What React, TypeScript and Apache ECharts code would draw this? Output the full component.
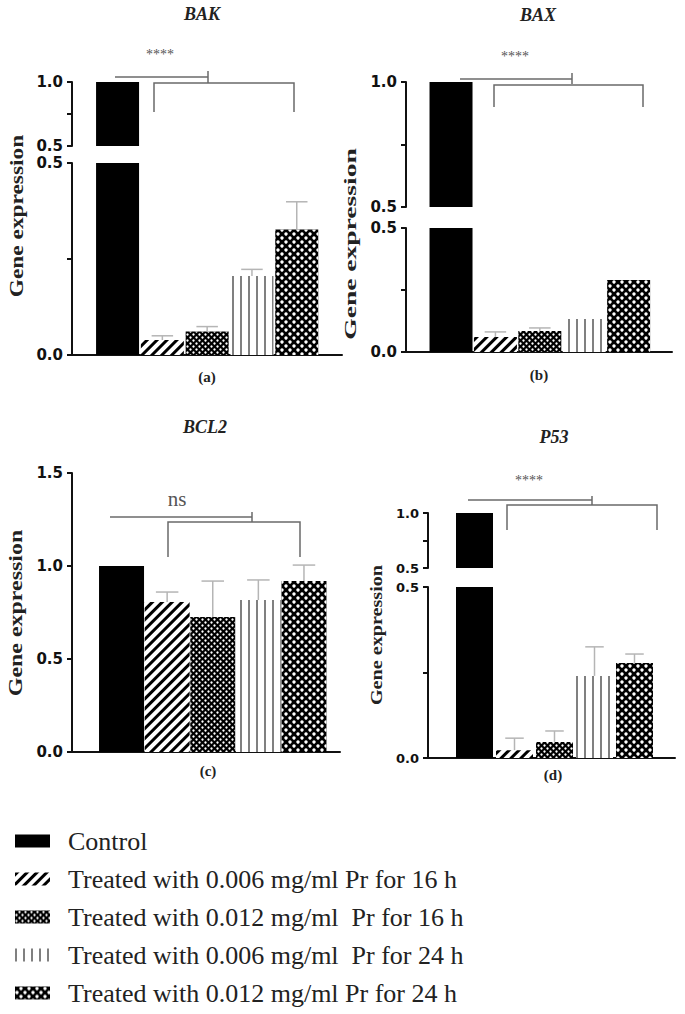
import React, { useEffect, useRef } from "react";
import * as echarts from "echarts";

// ---------- data ----------
const groups = [
  "Control",
  "Treated with 0.006 mg/ml Pr for 16 h",
  "Treated with 0.012 mg/ml  Pr for 16 h",
  "Treated with 0.006 mg/ml  Pr for 24 h",
  "Treated with 0.012 mg/ml Pr for 24 h",
];
const geneTitles = ["BAK", "BAX", "BCL2", "P53"];
const panelTags = ["(a)", "(b)", "(c)", "(d)"];
const sigLabels = ["****", "****", "ns", "****"];
const yAxisTitle = "Gene expression";

const bakMean = [1.0, 0.039, 0.061, 0.206, 0.327];
const bakSD = [0, 0.011, 0.013, 0.017, 0.072];
const baxMean = [1.0, 0.06, 0.085, 0.133, 0.29];
const baxSD = [0, 0.021, 0.012, 0, 0];
const bcl2Mean = [1.0, 0.806, 0.726, 0.817, 0.919];
const bcl2SD = [0, 0.054, 0.193, 0.108, 0.086];
const p53Mean = [1.0, 0.023, 0.047, 0.24, 0.278];
const p53SD = [0, 0.035, 0.032, 0.085, 0.026];

const panelMeans = [bakMean, baxMean, bcl2Mean, p53Mean];
const panelSDs = [bakSD, baxSD, bcl2SD, p53SD];

// ---------- layout ----------
const layouts = [
  { left: 72, right: 342, xMin: -1.017, xMax: 5.01, barWidth: 43, tickFont: 15,
    segs: [ { min: 0.5, max: 1, interval: 0.25, top: 82, bottom: 146 },
            { min: 0, max: 0.5, interval: 0.25, top: 163, bottom: 355 } ] },
  { left: 406, right: 672, xMin: -1.014, xMax: 4.977, barWidth: 43, tickFont: 15,
    segs: [ { min: 0.5, max: 1, interval: 0.25, top: 82, bottom: 207 },
            { min: 0, max: 0.5, interval: 0.25, top: 228, bottom: 352 } ] },
  { left: 72, right: 340, xMin: -1.086, xMax: 4.79, barWidth: 45, tickFont: 15,
    segs: [ { min: 0, max: 1.5, interval: 0.5, top: 473, bottom: 752 } ] },
  { left: 428, right: 675, xMin: -1.1625, xMax: 5.0125, barWidth: 37, tickFont: 13,
    segs: [ { min: 0.5, max: 1, interval: 0.25, top: 513, bottom: 568 },
            { min: 0, max: 0.5, interval: 0.25, top: 587, bottom: 758 } ] },
];

const annot = [
  { title: [202, 14], tag: [207, 377], sig: [160, 54], sigSize: 14,
    ylab: { x: 17, y: 216, size: 19, weight: "bold", sx: 1.23 },
    line1: [115, 208, 77], tick: [71, 83], br: [154, 294, 83, 112] },
  { title: [538, 15], tag: [539, 375], sig: [515, 56], sigSize: 14,
    ylab: { x: 350, y: 244, size: 17, weight: "bold", sx: 1.62 },
    line1: [460, 572, 79], tick: [73, 84], br: [494, 643, 85, 107] },
  { title: [205, 427], tag: [208, 771], sig: [177, 499], sigSize: 21,
    ylab: { x: 16, y: 613, size: 19, weight: "bold", sx: 1.26 },
    line1: [110, 252, 517], tick: [512, 522], br: [168, 300, 522, 557] },
  { title: [554, 437], tag: [553, 775], sig: [529, 480], sigSize: 14,
    ylab: { x: 377, y: 635, size: 16, weight: "bold", sx: 1.26 },
    line1: [468, 592, 500], tick: [496, 505], br: [507, 657, 505, 530] },
];

const fills: any[] = [
  { color: "#000" },
  { color: "#fff", decal: { symbol: "rect", color: "#000", dashArrayX: [1, 0], dashArrayY: [2.5, 3.5], rotation: -Math.PI / 4 } },
  { color: "#000", decal: { symbol: "circle", symbolSize: 0.8, color: "#fff", dashArrayX: [[2.5, 2.5], [0, 2.5, 2.5, 0]], dashArrayY: [2.5, 0] } },
  { color: "#fff", decal: { symbol: "rect", color: "#808080", dashArrayX: [1.5, 5.5], dashArrayY: [1, 0] } },
  { color: "#000", decal: { symbol: "circle", symbolSize: 0.85, color: "#fff", dashArrayX: [[3.5, 3.5], [0, 3.5, 3.5, 0]], dashArrayY: [3.5, 0] } },
];

const AXIS = "#111";
const BRACKET = "#6a6a6a";

function buildOption() {
  const grid: any[] = [];
  const xAxis: any[] = [];
  const yAxis: any[] = [];
  const series: any[] = [];
  const graphic: any[] = [];

  layouts.forEach((L, pi) => {
    const means = panelMeans[pi];
    const sds = panelSDs[pi];
    L.segs.forEach((s, si) => {
      const gi = grid.length;
      const isBottom = si === L.segs.length - 1;
      grid.push({ left: L.left, top: s.top, width: L.right - L.left, height: s.bottom - s.top });
      xAxis.push({
        type: "value", gridIndex: gi, min: L.xMin, max: L.xMax, show: isBottom,
        axisLine: { show: true, onZero: false, lineStyle: { color: AXIS, width: 2 } },
        axisTick: { show: false }, axisLabel: { show: false }, splitLine: { show: false },
      });
      yAxis.push({
        type: "value", gridIndex: gi, min: s.min, max: s.max, interval: s.interval,
        axisLine: { show: true, onZero: false, lineStyle: { color: AXIS, width: 2 } },
        axisTick: { show: true, length: 5, lineStyle: { color: AXIS, width: 2 } },
        axisLabel: {
          fontFamily: "DejaVu Sans", fontWeight: "bold", fontSize: L.tickFont, color: AXIS, margin: 9,
          formatter: (v: number) => (Math.abs(v / 0.5 - Math.round(v / 0.5)) < 1e-6 ? v.toFixed(1) : ""),
        },
        splitLine: { show: false },
      });
      groups.forEach((g, k) => {
        const v = means[k];
        series.push({
          type: "bar", name: g, xAxisIndex: gi, yAxisIndex: gi, barWidth: L.barWidth, barGap: "-100%",
          itemStyle: fills[k], clip: true, data: v > s.min ? [[k, v]] : [],
        });
      });
      if (isBottom) {
        const capW = L.barWidth * 0.5;
        series.push({
          type: "custom", xAxisIndex: gi, yAxisIndex: gi, z: 5,
          dimensions: ["x", "mean", "sd"], encode: { x: 0, y: 1 },
          data: means.map((m, k) => [k, m, sds[k]]).filter((d) => d[2] > 0),
          renderItem: (params: any, api: any) => {
            const x = api.value(0), m = api.value(1), sd = api.value(2);
            const p0 = api.coord([x, m]);
            const p1 = api.coord([x, m + sd]);
            const st = { stroke: "#b5b5b5", lineWidth: 1.5 };
            return {
              type: "group",
              children: [
                { type: "line", shape: { x1: p0[0], y1: p0[1], x2: p1[0], y2: p1[1] }, style: st },
                { type: "line", shape: { x1: p1[0] - capW / 2, y1: p1[1], x2: p1[0] + capW / 2, y2: p1[1] }, style: st },
              ],
            };
          },
        });
      }
    });

    const A = annot[pi];
    graphic.push({
      type: "text", x: A.title[0], y: A.title[1],
      style: { text: geneTitles[pi], font: "italic bold 18px 'Liberation Serif'", fill: "#222", align: "center", verticalAlign: "middle" },
    });
    graphic.push({
      type: "text", x: A.tag[0], y: A.tag[1],
      style: { text: panelTags[pi], font: "bold 15px 'Liberation Serif'", fill: "#222", align: "center", verticalAlign: "middle" },
    });
    graphic.push({
      type: "text", x: A.sig[0], y: A.sig[1],
      style: { text: sigLabels[pi], font: `${A.sigSize}px 'Liberation Serif'`, fill: "#555", align: "center", verticalAlign: "middle" },
    });
    graphic.push({
      type: "text", x: A.ylab.x, y: A.ylab.y, rotation: Math.PI / 2, scaleX: A.ylab.sx,
      style: { text: yAxisTitle, font: `${A.ylab.weight} ${A.ylab.size}px 'Liberation Serif'`, fill: "#222", align: "center", verticalAlign: "middle" },
    });
    const lineStyle = { stroke: BRACKET, lineWidth: 1.5 };
    graphic.push({ type: "line", shape: { x1: A.line1[0], y1: A.line1[2], x2: A.line1[1], y2: A.line1[2] }, style: lineStyle });
    graphic.push({ type: "line", shape: { x1: A.line1[1], y1: A.tick[0], x2: A.line1[1], y2: A.tick[1] }, style: lineStyle });
    graphic.push({
      type: "polyline",
      shape: { points: [[A.br[0], A.br[3]], [A.br[0], A.br[2]], [A.br[1], A.br[2]], [A.br[1], A.br[3]]] },
      style: { ...lineStyle, fill: null },
    });
  });

  return {
    animation: false,
    backgroundColor: "#fff",
    grid, xAxis, yAxis, series, graphic,
    legend: {
      data: groups, orient: "vertical", left: 10, top: 823, itemWidth: 35, itemHeight: 13, itemGap: 12,
      icon: "rect", selectedMode: false,
      textStyle: { fontFamily: "Liberation Serif", fontSize: 26, color: "#222", padding: [0, 0, 0, 13] },
    },
  };
}

export default function App() {
  const ref = useRef<HTMLDivElement>(null);
  useEffect(() => {
    if (!ref.current) return;
    const chart = echarts.init(ref.current, undefined, { renderer: "svg" });
    chart.setOption(buildOption() as any);
    return () => chart.dispose();
  }, []);
  return <div ref={ref} style={{ position: "absolute", left: 0, top: 0, width: 685, height: 1014 }} />;
}
